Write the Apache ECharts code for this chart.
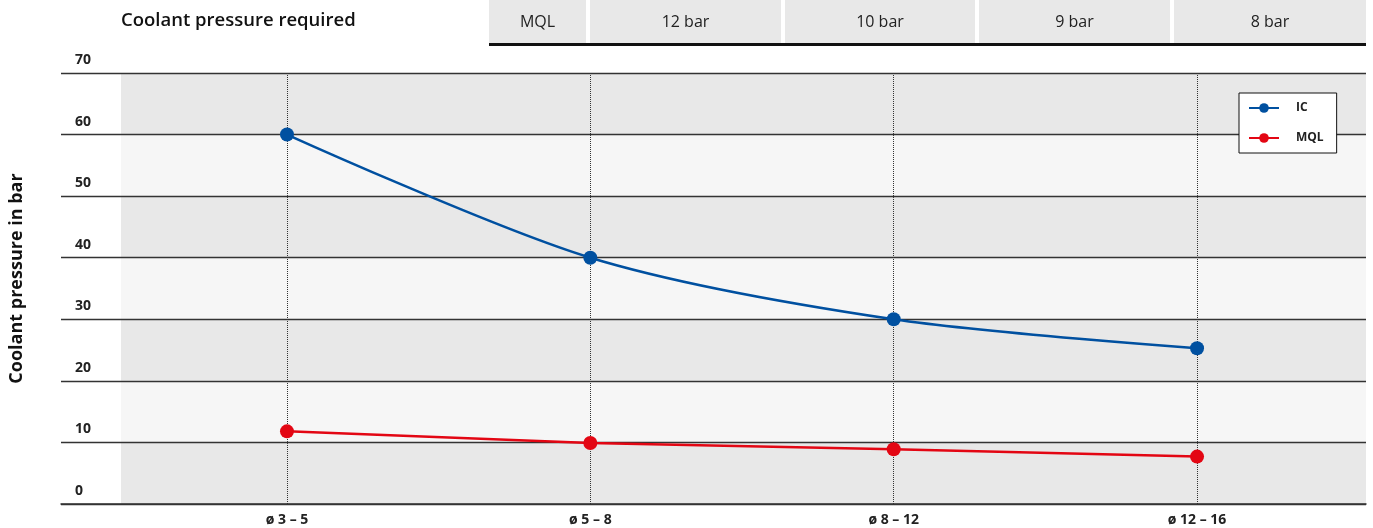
<!DOCTYPE html>
<html>
<head>
<meta charset="utf-8">
<script src="https://cdn.jsdelivr.net/npm/echarts@6/dist/echarts.min.js"></script>
<style>html,body{margin:0;padding:0;background:#fff}#c{width:1373px;height:528px}</style>
</head>
<body>
<div id="c"></div>
<script>
const categories = ['ø 3 – 5', 'ø 5 – 8', 'ø 8 – 12', 'ø 12 – 16'];
const icValues = [60, 40, 30, 25.3];
const mqlValues = [11.8, 9.9, 8.9, 7.7];
const seriesNames = ['IC', 'MQL'];
const yMin = 0, yMax = 70, yStep = 10;
const yAxisTitle = 'Coolant pressure in bar';
const headerTitle = 'Coolant pressure required';
const headerLabels = ['MQL', '12 bar', '10 bar', '9 bar', '8 bar'];

const FONT = '"Open Sans", "Noto Sans", sans-serif';
const BLUE = '#0050a0', RED = '#e30613';

// header layout
const cellX = [489, 590, 785, 979, 1174];
const cellW = [97, 191, 190, 191, 192];
const graphic = [
  { type: 'text', left: 121, top: 11, style: { text: headerTitle, font: '600 18.5px ' + FONT, fill: '#111' } }
];
headerLabels.forEach((t, i) => {
  graphic.push({ type: 'rect', shape: { x: cellX[i], y: 0, width: cellW[i], height: 43 }, style: { fill: '#e8e8e8' } });
  graphic.push({ type: 'text', x: cellX[i] + cellW[i] / 2, y: 22, style: { text: t, font: '16px ' + FONT, fill: '#222', align: 'center', verticalAlign: 'middle' } });
});
graphic.push({ type: 'rect', shape: { x: 489, y: 43, width: 877, height: 3 }, style: { fill: '#111' } });

const chart = echarts.init(document.getElementById('c'), null, { renderer: 'canvas' });
chart.setOption({
  animation: false,
  textStyle: { fontFamily: FONT },
  graphic: graphic,
  grid: [
    { left: 121, right: 7, top: 73, bottom: 24 },
    { left: 61, right: 7, top: 73, bottom: 24 }
  ],
  legend: {
    data: seriesNames,
    orient: 'vertical',
    left: 1239, top: 93,
    backgroundColor: '#fff',
    borderColor: '#111', borderWidth: 1, borderRadius: 0,
    padding: [9, 13, 9, 9],
    itemWidth: 30, itemHeight: 12, itemGap: 18,
    textStyle: { fontSize: 12, fontWeight: 'bold', color: '#222', padding: [0, 0, 0, 12] }
  },
  xAxis: [
    { gridIndex: 0, type: 'value', min: 0, max: 1, show: false },
    {
      gridIndex: 1, type: 'value', min: -0.745, max: 3.557,
      axisLine: { show: true, lineStyle: { color: '#333', width: 1.5 } },
      axisTick: { show: false },
      splitLine: { show: false },
      axisLabel: {
        customValues: categories.map((c, i) => i),
        formatter: v => categories[Math.round(v)],
        fontSize: 14, fontWeight: 'bold', color: '#222', margin: 9
      }
    }
  ],
  yAxis: [
    {
      gridIndex: 0, type: 'value', min: yMin, max: yMax, interval: yStep,
      axisLine: { show: false }, axisTick: { show: false }, axisLabel: { show: false },
      splitLine: { show: false },
      splitArea: { show: true, areaStyle: { color: ['#e8e8e8', '#f6f6f6'] } }
    },
    {
      gridIndex: 1, type: 'value', min: yMin, max: yMax, interval: yStep, z: 3,
      name: yAxisTitle, nameLocation: 'middle', nameRotate: 90, nameGap: 35,
      nameTextStyle: { fontSize: 18, fontWeight: 'bold', color: '#111', padding: [0, 0, 0, 20] },
      axisLine: { show: false }, axisTick: { show: false },
      axisLabel: {
        inside: true, align: 'left', margin: 14, verticalAlign: 'bottom',
        lineHeight: 14, padding: [0, 0, 6, 0],
        fontSize: 14, fontWeight: 'bold', color: '#222'
      },
      splitLine: { show: true, lineStyle: { color: '#333', width: 1.3 } }
    }
  ],
  series: [
    {
      name: seriesNames[0], type: 'line', xAxisIndex: 1, yAxisIndex: 1,
      data: icValues.map((v, i) => [i, v]),
      smooth: 0.3, symbol: 'circle', symbolSize: 14,
      lineStyle: { color: BLUE, width: 2.5 }, itemStyle: { color: BLUE },
      z: 5,
      markLine: {
        silent: true, symbol: ['none', 'none'], label: { show: false },
        lineStyle: { color: '#333', type: 'dotted', width: 1 },
        emphasis: { disabled: true },
        data: categories.map((c, i) => ({ xAxis: i }))
      }
    },
    {
      name: seriesNames[1], type: 'line', xAxisIndex: 1, yAxisIndex: 1,
      data: mqlValues.map((v, i) => [i, v]),
      symbol: 'circle', symbolSize: 14,
      lineStyle: { color: RED, width: 2.5 }, itemStyle: { color: RED },
      z: 6
    }
  ]
});
</script>
</body>
</html>
